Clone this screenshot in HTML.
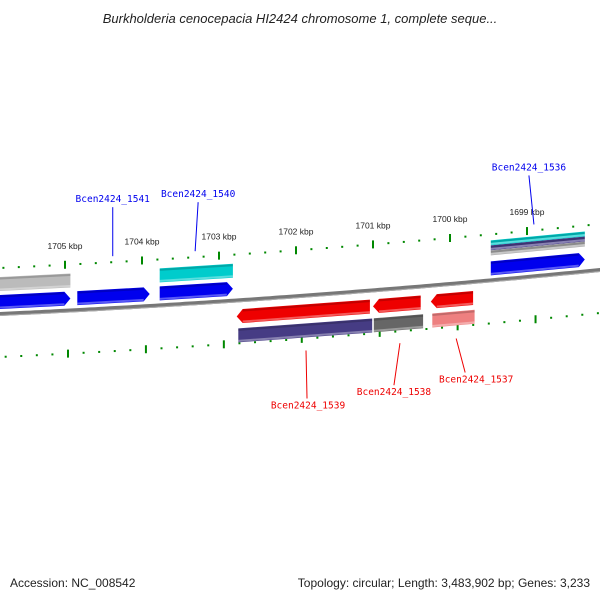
<!DOCTYPE html>
<html><head><meta charset="utf-8"><style>
body{margin:0;background:#fff}
svg text{font-family:"Liberation Sans",sans-serif}
svg text.glab{font-family:"DejaVu Sans Mono",monospace}
</style></head><body>
<svg width="600" height="600" xmlns="http://www.w3.org/2000/svg">
<text x="300" y="23" text-anchor="middle" font-size="13" font-style="italic" fill="#222">Burkholderia cenocepacia HI2424 chromosome 1, complete seque...</text>
<g id="ticks"></g>
<g id="backbone"></g>
<g id="genes"></g>
<g id="labels"></g>
<text x="10" y="587" font-size="12" fill="#222">Accession: NC_008542</text>
<text x="590" y="587" text-anchor="end" font-size="12" fill="#222">Topology: circular; Length: 3,483,902 bp; Genes: 3,233</text>
</svg>
<script>
// data (kbp positions)
const tickKbp=[1705,1704,1703,1702,1701,1700,1699];
const tickLabels=["1705 kbp","1704 kbp","1703 kbp","1702 kbp","1701 kbp","1700 kbp","1699 kbp"];
const geneStart=[1705.85,1704.84,1703.77,1699.47,1702.77,1701.00,1700.25,1705.85,1703.77,1699.47,1699.47,1699.47,1702.75,1700.99,1700.23];
const geneEnd=[1704.93,1703.90,1702.82,1698.25,1701.04,1700.38,1699.70,1704.93,1702.82,1698.25,1698.25,1698.25,1701.01,1700.35,1699.68];
const geneRow=["f1","f1","f1","f1","r1","r1","r1","f2","f2","f2a","f2b","f2c","r2","r2","r2"];
const geneColor=["#0000ee","#0000ee","#0000ee","#0000ee","#ee0000","#ee0000","#ee0000","#bbbbbb","#00cccc","#00cccc","#4a3f8a","#aaaaaa","#463c84","#666666","#ee8080"];
const geneArrow=[1,1,1,1,-1,-1,-1,0,0,0,0,0,0,0,0];
const labelText=["Bcen2424_1541","Bcen2424_1540","Bcen2424_1536","Bcen2424_1539","Bcen2424_1538","Bcen2424_1537"];
const labelKbp=[1704.38,1703.31,1698.91,1701.87,1700.65,1699.92];
const labelStrand=[1,1,1,-1,-1,-1];

const NS="http://www.w3.org/2000/svg";
const X=k=>65+(1705-k)*77;
const Y=x=>314-0.0467*x-0.0000444*x*x;
function el(t,a,p){const e=document.createElementNS(NS,t);for(const k in a)e.setAttribute(k,a[k]);document.getElementById(p).appendChild(e);return e;}
const rows={f1:[-19,-5],f2:[-37,-23],f2a:[-40,-35],f2b:[-35,-30],f2c:[-30,-25],r1:[9,23],r2:[28,42]};
// backbone
let d="";for(let x=-5;x<=605;x+=5)d+=(x<0?"M":"L")+x+","+Y(x).toFixed(1);
const b=el("path",{d:d,stroke:"#777",fill:"none","stroke-width":4},"backbone");


el("path",{d:d,stroke:"#aaa",fill:"none","stroke-width":1,transform:"translate(0,1.5)"},"backbone");
// ticks
for(let k=1709;k>=1697;k-=0.2){
 const kk=Math.round(k*5)/5;const major=Math.abs(kk-Math.round(kk))<0.01;
 [[-46,1],[43,1.012]].forEach(([off,sc])=>{
  const x=65+(1705-kk)*77*sc+(off>0?3:0);if(x<-5||x>605)return;
  const y=Y(x)+off;
  const t=el("line",{x1:x,x2:x,y1:major?y-4:y-1,y2:major?y+4:y+1,stroke:"#008800","stroke-width":2},"ticks");
  
  
 });
}
tickKbp.forEach((k,i)=>{const x=X(k);const t=el("text",{x:x,y:Y(x)-62,"text-anchor":"middle","font-size":"8.5",fill:"#222"},"ticks");t.textContent=tickLabels[i];
 
 });
// genes
geneStart.forEach((s,i)=>{
 const x1=X(s),x2=X(geneEnd[i]);const [o1,o2]=rows[geneRow[i]];
 const p=[];const a=geneArrow[i],ah=6;
 const xa=a===1?x2-ah:x2,xb=a===-1?x1+ah:x1;
 p.push([xb,Y(xb)+o1],[xa,Y(xa)+o1]);
 if(a===1)p.push([x2,Y(x2)+(o1+o2)/2]);
 p.push([xa,Y(xa)+o2],[xb,Y(xb)+o2]);
 if(a===-1)p.push([x1,Y(x1)+(o1+o2)/2]);
 const g=el("polygon",{points:p.map(q=>q[0].toFixed(1)+","+q[1].toFixed(1)).join(" "),fill:geneColor[i]},"genes");
 
 
 el("line",{x1:xb,y1:Y(xb)+o2-1.5,x2:xa,y2:Y(xa)+o2-1.5,stroke:"#fff","stroke-opacity":0.35,"stroke-width":2},"genes");
 el("line",{x1:xb,y1:Y(xb)+o1+1.5,x2:xa,y2:Y(xa)+o1+1.5,stroke:"#000","stroke-opacity":0.18,"stroke-width":2},"genes");
});
// labels
const lineDx=[0,3,-5,1,-6,9];
const textDx=[0,0,0,1,0,11];
labelText.forEach((t,i)=>{
 const x=X(labelKbp[i]);const c=labelStrand[i]>0?"#0000ee":"#ee0000";
 let ly,ty,ey;const lx=x+lineDx[i];
 if(labelStrand[i]>0){ey=Y(x)-52;ly=Y(x)-101;ty=ly-5;}
 else{ey=Y(x)+55;ly=Y(x)+103-(i===4?6:i===5?14:0);ty=ly+10;}
 const l=el("line",{x1:x,y1:ey,x2:lx,y2:ly,stroke:c,"stroke-width":1},"labels");
 
 
 const tx=el("text",{x:lx+textDx[i],y:ty,"text-anchor":"middle","font-size":"9.5",fill:c,"class":"glab"},"labels");
 tx.textContent=t;
 
 
});
</script>
</body></html>
